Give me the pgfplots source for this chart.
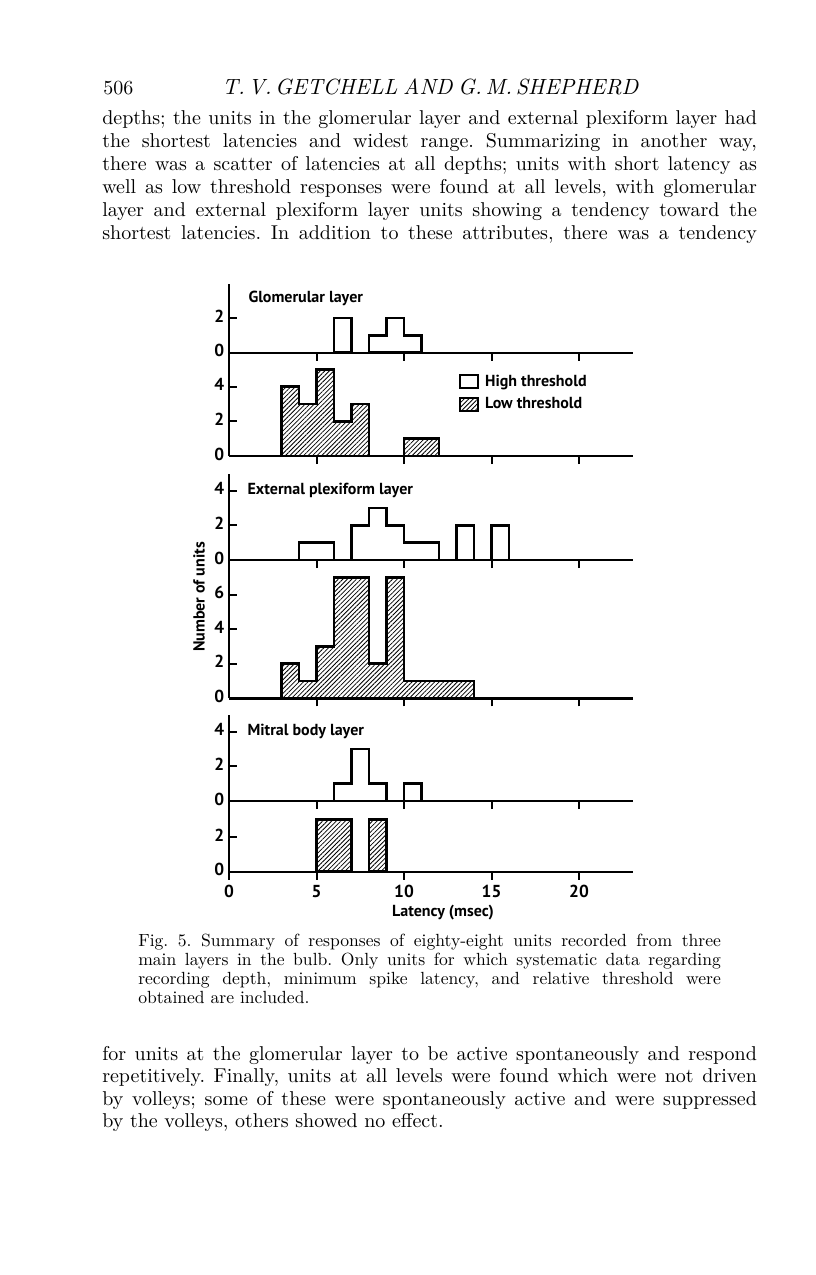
\documentclass[border=0pt]{standalone}
\usepackage{fontspec}
\usepackage{pgfplots}
\pgfplotsset{compat=1.18}
\usetikzlibrary{patterns.meta}
\newfontfamily\chartfont{PT Sans}
\newfontfamily\bodyfont{lmroman10-regular.otf}
\newfontfamily\bodyit{lmroman10-italic.otf}
\newcommand\cf{\chartfont\bfseries\fontsize{12}{14}\selectfont}
\newcommand\tf{\chartfont\bfseries\fontsize{13}{15}\selectfont}
\newcommand\bodyline[2]{\node[anchor=base west,inner sep=0pt] at ({102*0.75pt},{-#1*0.75pt}) {\bodyfont\fontsize{15}{18}\selectfont\frenchspacing\makebox[491pt][s]{#2}};}
\newcommand\capline[2]{\node[anchor=base west,inner sep=0pt] at ({138*0.75pt},{-#1*0.75pt}) {\bodyfont\fontsize{13.2}{14}\selectfont\frenchspacing\makebox[437pt][s]{#2}};}
\pgfplotsset{
  panel/.style={
    x=13.125pt, y=12.975pt, xmin=0, xmax=23.1, ymin=0,
    axis x line*=bottom, axis y line*=left,
    axis line style={line width=1.8pt,-},
    tick pos=left, tick align=inside, major tick length=6pt,
    tick style={line width=1.5pt,black},
    xtick={5,10,15,20}, xticklabels={},
    xtick style={yshift=-6pt},
    ticklabel style={font=\tf},
    typeset ticklabels with strut,
    /pgf/number format/assume math mode=true,
    anchor=south west, clip=false,
  },
  openbar/.style={const plot mark left, draw=black, line width=2pt, fill=white, mark=none, forget plot},
  hatchbar/.style={const plot mark left, draw=black, line width=2pt, pattern={Lines[angle=45,distance=2.4pt,line width=0.6pt]}, mark=none, forget plot},
}
\begin{document}
\begin{tikzpicture}
\path[use as bounding box, fill=white] (0,0) rectangle (612pt,-956.25pt);
% header
\node[anchor=base west,inner sep=0pt] at ({103*0.75pt},{-94*0.75pt}) {\bodyfont\fontsize{15}{18}\selectfont 506};
\node[anchor=base west,inner sep=0pt] at ({222*0.75pt},{-94*0.75pt}) {\bodyit\fontsize{16.5}{18}\selectfont\makebox[312pt][s]{T.\,V.\,GETCHELL AND G.\,M.\,SHEPHERD}};
% top paragraph
\bodyline{124.5}{depths; the units in the glomerular layer and external plexiform layer had}
\bodyline{147.5}{the shortest latencies and widest range. Summarizing in another way,}
\bodyline{170.5}{there was a scatter of latencies at all depths; units with short latency as}
\bodyline{193.5}{well as low threshold responses were found at all levels, with glomerular}
\bodyline{216.5}{layer and external plexiform layer units showing a tendency toward the}
\bodyline{239.5}{shortest latencies. In addition to these attributes, there was a tendency}
% caption
\capline{946}{Fig. 5. Summary of responses of eighty-eight units recorded from three}
\capline{965}{main layers in the bulb. Only units for which systematic data regarding}
\capline{984}{recording depth, minimum spike latency, and relative threshold were}
\node[anchor=base west,inner sep=0pt] at ({138*0.75pt},{-1003*0.75pt}) {\bodyfont\fontsize{13.2}{14}\selectfont obtained are included.};
% bottom paragraph
\bodyline{1060}{for units at the glomerular layer to be active spontaneously and respond}
\bodyline{1082.5}{repetitively. Finally, units at all levels were found which were not driven}
\bodyline{1105}{by volleys; some of these were spontaneously active and were suppressed}
\node[anchor=base west,inner sep=0pt] at ({102*0.75pt},{-1127.5*0.75pt}) {\bodyfont\fontsize{15}{18}\selectfont\frenchspacing by the volleys, others showed no effect.};

% ---------- Panel 1: Glomerular, high threshold
\begin{axis}[panel, at={({229*0.75pt},{-352.7*0.75pt})}, ymax=4, ytick={0,2}]
\addplot[openbar] coordinates {(6,2)(7,2)} \closedcycle;
\addplot[openbar] coordinates {(8,1)(9,2)(10,1)(11,1)} \closedcycle;
\node[anchor=west,font=\cf,inner sep=0pt] at (axis cs:1.1,3.14) {Glomerular layer};
\end{axis}
% ---------- Panel 2: Glomerular, low threshold
\begin{axis}[panel, at={({229*0.75pt},{-456*0.75pt})}, ymax=5.97, ytick={0,2,4},
  legend style={at={(axis cs:13.1,4.85)}, anchor=north west, draw=none, fill=none, font=\cf, row sep=3pt, inner sep=0pt},
  legend cell align=left,
  legend image code/.code={\draw[#1,line width=1.5pt] (0pt,-4.8pt) rectangle (13.5pt,5pt); \path (17pt,0pt);}]
\addplot[hatchbar] coordinates {(3,4)(4,3)(5,5)(6,2)(7,3)(8,3)} \closedcycle;
\addplot[hatchbar] coordinates {(10,1)(11,1)(12,1)} \closedcycle;
\addlegendimage{draw=black,fill=white}
\addlegendentry{High threshold}
\addlegendimage{draw=black,pattern={Lines[angle=45,distance=2.4pt,line width=0.6pt]}}
\addlegendentry{Low threshold}
\end{axis}
% ---------- Panel 3: EPL, high threshold
\begin{axis}[panel, at={({229*0.75pt},{-560*0.75pt})}, ymax=5, ytick={0,2,4}]
\addplot[openbar] coordinates {(4,1)(5,1)(6,1)} \closedcycle;
\addplot[openbar] coordinates {(7,2)(8,3)(9,2)(10,1)(11,1)(12,1)} \closedcycle;
\addplot[openbar] coordinates {(13,2)(14,2)} \closedcycle;
\addplot[openbar] coordinates {(15,2)(16,2)} \closedcycle;
\node[anchor=west,font=\cf,inner sep=0pt] at (axis cs:1.05,4) {External plexiform layer};
\end{axis}
% ---------- Panel 4: EPL, low threshold
\begin{axis}[panel, at={({229*0.75pt},{-698.3*0.75pt})}, ymax=8, ytick={0,2,4,6}]
\addplot[hatchbar] coordinates {(3,2)(4,1)(5,3)(6,7)(7,7)(8,2)(9,7)(10,1)(11,1)(12,1)(13,1)(14,1)} \closedcycle;
\end{axis}
% ---------- Panel 5: Mitral, high threshold
\begin{axis}[panel, at={({229*0.75pt},{-801*0.75pt})}, ymax=5, ytick={0,2,4}]
\addplot[openbar] coordinates {(6,1)(7,3)(8,1)(9,1)} \closedcycle;
\addplot[openbar] coordinates {(10,1)(11,1)} \closedcycle;
\node[anchor=west,font=\cf,inner sep=0pt] at (axis cs:1.05,4) {Mitral body layer};
\end{axis}
% ---------- Panel 6: Mitral, low threshold
\begin{axis}[panel, at={({229*0.75pt},{-871.7*0.75pt})}, ymax=4.09, ytick={0,2},
  xtick={0,5,10,15,20}, xticklabels={0,5,10,15,20},
  xticklabel style={yshift=-5pt}]
\addplot[hatchbar] coordinates {(5,3)(6,3)(7,3)} \closedcycle;
\addplot[hatchbar] coordinates {(8,3)(9,3)} \closedcycle;
\end{axis}
% axis titles
\node[rotate=90,font=\cf] at ({199*0.75pt},{-597*0.75pt}) {Number of units};
\node[font=\cf] at ({443*0.75pt},{-913*0.75pt}) {Latency (msec)};
\end{tikzpicture}
\end{document}
